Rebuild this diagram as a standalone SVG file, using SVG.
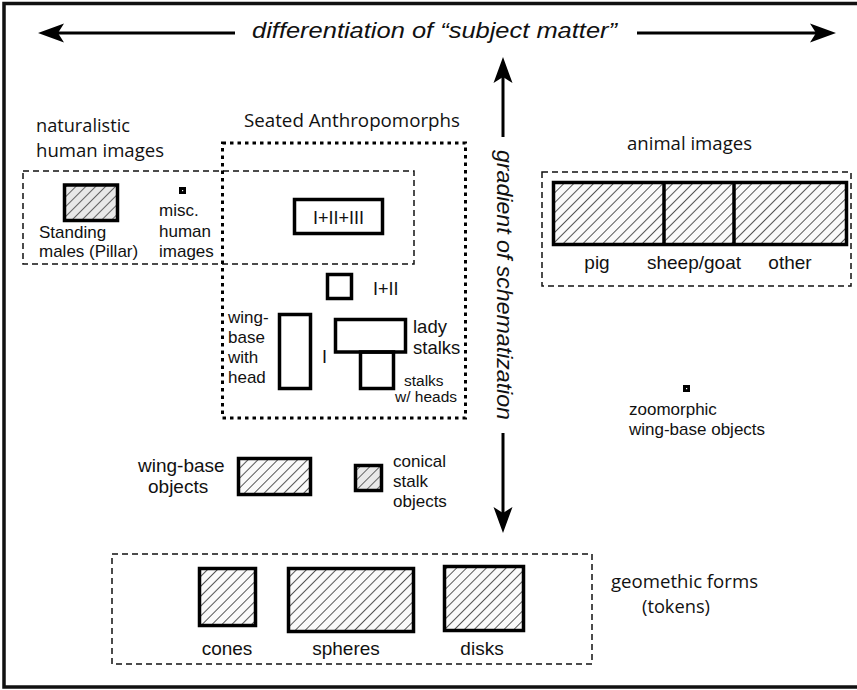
<svg xmlns="http://www.w3.org/2000/svg" width="857" height="690" viewBox="0 0 857 690">
  <style>
    .t { font-family: "Liberation Sans", Arial, sans-serif; fill: #111; }
    .h { font-family: "Open Sans", "Noto Sans", sans-serif; fill: #111; font-size: 17.5px; }
    .s17 { font-size: 17px; }
    .s19 { font-size: 19px; }
    .s15 { font-size: 15.5px; }
    .it { font-style: italic; font-size: 22px; }
    .box { fill: none; stroke: #000; stroke-width: 3.5; }
    .hatch { fill: url(#hatch); stroke: #000; stroke-width: 3.5; }
    .hatch-grey { fill: url(#hatchGrey); stroke: #000; stroke-width: 3.5; }
    .dash { fill: none; stroke: #111; stroke-width: 1.5; stroke-dasharray: 6 4; }
    .dot { fill: none; stroke: #000; stroke-width: 3; stroke-dasharray: 3.5 4; }
    .arrow { fill: none; stroke: #000; stroke-width: 3; marker-end: url(#head); }
    .tiny { fill: #000; }
  </style>
  <defs>
    <pattern id="hatch" width="7" height="7" patternUnits="userSpaceOnUse" patternTransform="rotate(45)">
      <rect width="7" height="7" fill="#fafafa"/>
      <line x1="3.5" y1="0" x2="3.5" y2="7" stroke="#444" stroke-width="0.9"/>
    </pattern>
    <pattern id="hatchGrey" width="7" height="7" patternUnits="userSpaceOnUse" patternTransform="rotate(45)">
      <rect width="7" height="7" fill="#e8e8e8"/>
      <line x1="3.5" y1="0" x2="3.5" y2="7" stroke="#555" stroke-width="0.9"/>
    </pattern>
    <marker id="head" viewBox="0 0 26 20" refX="8" refY="10" markerWidth="26" markerHeight="20" markerUnits="userSpaceOnUse" orient="auto">
      <path d="M0,0.5 L26,10 L0,19.5 L6,10 Z" fill="#000"/>
    </marker>
  </defs>

  <!-- frame -->
  <rect x="4" y="3.5" width="856" height="683.5" fill="#fff" stroke="#111" stroke-width="3.5"/>

  <!-- axes -->
  <g id="connectors">
    <path class="arrow" d="M235,33 L56,33"/>
    <path class="arrow" d="M637,33 L818,33"/>
    <path class="arrow" d="M503,137 L503,75"/>
    <path class="arrow" d="M503,433 L503,515"/>
  </g>
  <text class="t it" x="252" y="38" textLength="365" lengthAdjust="spacingAndGlyphs">differentiation of “subject matter”</text>
  <text class="t it" transform="translate(497,150) rotate(90)" textLength="270" lengthAdjust="spacingAndGlyphs">gradient of schematization</text>

  <!-- naturalistic human images -->
  <g id="naturalistic">
    <rect class="dash" x="23" y="171" width="391" height="93"/>
    <text class="h" x="36" y="132" textLength="94" lengthAdjust="spacingAndGlyphs">naturalistic</text>
    <text class="h" x="36" y="157" textLength="128" lengthAdjust="spacingAndGlyphs">human images</text>
  </g>
  <g id="standing-males">
    <rect class="hatch-grey" x="64.5" y="185" width="53" height="35.5"/>
    <text class="t s17" x="39" y="238">Standing</text>
    <text class="t s17" x="39" y="257">males (Pillar)</text>
  </g>
  <g id="misc-human">
    <rect class="tiny" x="179" y="187" width="7" height="7"/>
    <rect x="182" y="190" width="1.2" height="1.2" fill="#fff"/>
    <text class="t s17" x="159" y="216">misc.</text>
    <text class="t s17" x="159" y="237">human</text>
    <text class="t s17" x="159" y="257">images</text>
  </g>

  <!-- seated anthropomorphs -->
  <g id="seated">
    <rect class="dot" x="222.5" y="143" width="243" height="275"/>
    <text class="h" x="244" y="127" textLength="216" lengthAdjust="spacingAndGlyphs">Seated Anthropomorphs</text>
  </g>
  <g id="type-123">
    <rect class="box" x="294.5" y="199.5" width="88" height="34"/>
    <text class="t" x="338.5" y="224" font-size="18" text-anchor="middle">I+II+III</text>
  </g>
  <g id="type-12">
    <rect class="box" x="327.5" y="274.5" width="24" height="24"/>
    <text class="t" x="373" y="295" font-size="18">I+II</text>
  </g>
  <g id="type-1">
    <text class="t" x="322" y="363" font-size="18">I</text>
  </g>
  <g id="wing-base-head">
    <rect class="box" x="279.5" y="314.5" width="31" height="74"/>
    <text class="t s17" x="228" y="323">wing-</text>
    <text class="t s17" x="228" y="343">base</text>
    <text class="t s17" x="228" y="363">with</text>
    <text class="t s17" x="228" y="383">head</text>
  </g>
  <g id="lady-stalks">
    <rect class="box" x="335.5" y="319.5" width="70" height="32.5"/>
    <text class="t" x="413" y="333" font-size="18.5">lady</text>
    <text class="t" x="413" y="354" font-size="18.5">stalks</text>
  </g>
  <g id="stalks-heads">
    <rect class="box" x="360.5" y="352" width="33" height="36.5"/>
    <text class="t s15" x="404" y="386">stalks</text>
    <text class="t s15" x="395" y="402">w/ heads</text>
  </g>

  <!-- animal images -->
  <g id="animal">
    <rect class="dash" x="542" y="172" width="309" height="114"/>
    <text class="h" x="627" y="150" textLength="125" lengthAdjust="spacingAndGlyphs">animal images</text>
    <rect class="hatch" x="553.5" y="182.5" width="293" height="62"/>
    <line x1="664" y1="182.5" x2="664" y2="244.5" stroke="#000" stroke-width="3.5"/>
    <line x1="734" y1="182.5" x2="734" y2="244.5" stroke="#000" stroke-width="3.5"/>
    <text class="t s19" x="597" y="269" text-anchor="middle">pig</text>
    <text class="t s19" x="694" y="269" text-anchor="middle">sheep/goat</text>
    <text class="t s19" x="790" y="269" text-anchor="middle">other</text>
  </g>

  <g id="zoomorphic">
    <rect class="tiny" x="683" y="385" width="7" height="7"/>
    <rect x="686" y="388" width="1.2" height="1.2" fill="#fff"/>
    <text class="t s17" x="629" y="415">zoomorphic</text>
    <text class="t s17" x="629" y="435">wing-base objects</text>
  </g>

  <!-- wing-base and conical stalk objects -->
  <g id="wing-base-objects">
    <rect class="hatch" x="238.5" y="458.5" width="72" height="36"/>
    <text class="t s19" x="138" y="472">wing-base</text>
    <text class="t s19" x="148" y="493">objects</text>
  </g>
  <g id="conical-stalk">
    <rect class="hatch-grey" x="355.5" y="465.5" width="26" height="25"/>
    <text class="t s17" x="393" y="467">conical</text>
    <text class="t s17" x="393" y="487">stalk</text>
    <text class="t s17" x="393" y="507">objects</text>
  </g>

  <!-- geometric forms -->
  <g id="geometric">
    <rect class="dash" x="112" y="554" width="480" height="110"/>
    <text class="h" x="611" y="588" textLength="147" lengthAdjust="spacingAndGlyphs">geomethic forms</text>
    <text class="h" x="642" y="613" textLength="68" lengthAdjust="spacingAndGlyphs">(tokens)</text>
  </g>
  <g id="cones">
    <rect class="hatch" x="199.5" y="568.5" width="56" height="57"/>
    <text class="t s19" x="227" y="655" text-anchor="middle">cones</text>
  </g>
  <g id="spheres">
    <rect class="hatch" x="288.5" y="568.5" width="125" height="63"/>
    <text class="t s19" x="346" y="655" text-anchor="middle">spheres</text>
  </g>
  <g id="disks">
    <rect class="hatch" x="444.5" y="566.5" width="79" height="64"/>
    <text class="t s19" x="482" y="655" text-anchor="middle">disks</text>
  </g>
</svg>
